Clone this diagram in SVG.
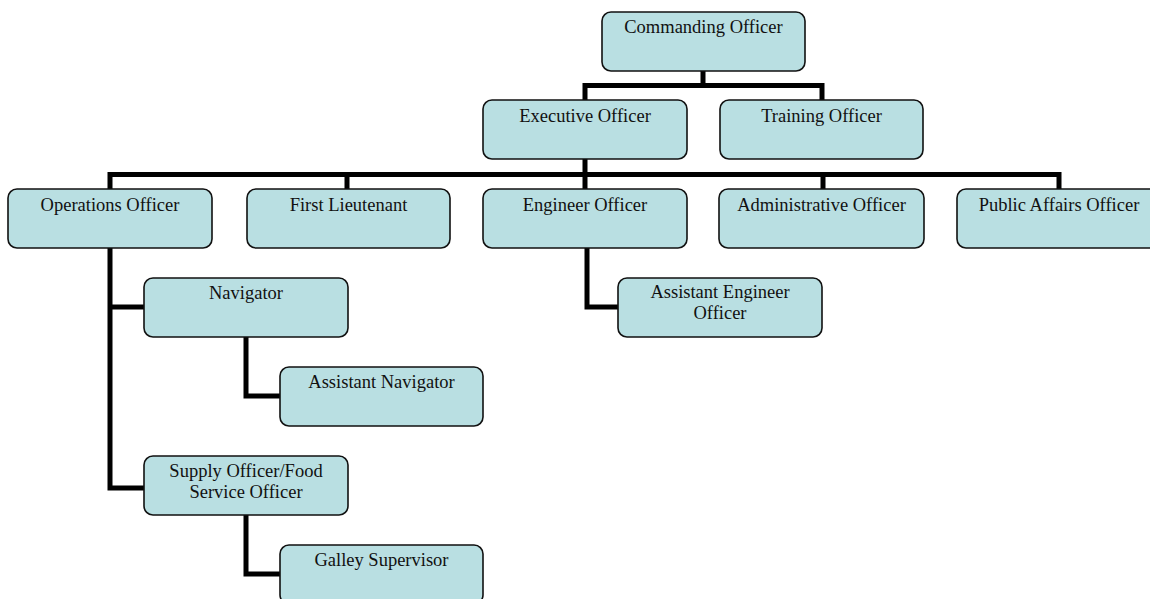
<svg xmlns="http://www.w3.org/2000/svg" width="1150" height="599" viewBox="0 0 1150 599">
<style>
.box{fill:#B9DFE2;stroke:#111;stroke-width:1.6}
.lbl{font-family:"Liberation Serif","Times New Roman",serif;font-size:18.5px;fill:#111;text-anchor:middle}
.conn{fill:none;stroke:#000;stroke-width:5;stroke-linejoin:miter;stroke-linecap:square}
</style>
<rect width="1150" height="599" fill="#fff"/>
<g id="connectors">
<path class="conn" d="M703,72 V85.5 M585,85.5 H822 V99 M585,85.5 V188"/>
<path class="conn" d="M110,174.5 H1059 V188 M110,174.5 V188 M347,174.5 V188 M823,174.5 V188"/>
<path class="conn" d="M110,249 V488 H143 M110,307 H143"/>
<path class="conn" d="M246,338 V396 H279"/>
<path class="conn" d="M246,516 V574 H279"/>
<path class="conn" d="M587,249 V307 H617"/>
</g>
<g id="commanding"><rect class="box" x="602" y="12" width="203" height="59" rx="9"/><text class="lbl" x="703.5" y="33">Commanding Officer</text></g>
<g id="executive"><rect class="box" x="483" y="100" width="204" height="59" rx="9"/><text class="lbl" x="585" y="122">Executive Officer</text></g>
<g id="training"><rect class="box" x="720" y="100" width="203" height="59" rx="9"/><text class="lbl" x="821.5" y="122">Training Officer</text></g>
<g id="operations"><rect class="box" x="8" y="189" width="204" height="59" rx="9"/><text class="lbl" x="110" y="211">Operations Officer</text></g>
<g id="firstlt"><rect class="box" x="247" y="189" width="203" height="59" rx="9"/><text class="lbl" x="348.5" y="211">First Lieutenant</text></g>
<g id="engineer"><rect class="box" x="483" y="189" width="204" height="59" rx="9"/><text class="lbl" x="585" y="211">Engineer Officer</text></g>
<g id="admin"><rect class="box" x="719" y="189" width="205" height="59" rx="9"/><text class="lbl" x="821.5" y="211">Administrative Officer</text></g>
<g id="publicaffairs"><rect class="box" x="957" y="189" width="204" height="59" rx="9"/><text class="lbl" x="1059" y="211">Public Affairs Officer</text></g>
<g id="navigator"><rect class="box" x="144" y="278" width="204" height="59" rx="9"/><text class="lbl" x="246" y="299">Navigator</text></g>
<g id="asstnav"><rect class="box" x="280" y="367" width="203" height="59" rx="9"/><text class="lbl" x="381.5" y="388">Assistant Navigator</text></g>
<g id="supply"><rect class="box" x="144" y="456" width="204" height="59" rx="9"/><text class="lbl" x="246" y="477">Supply Officer/Food</text><text class="lbl" x="246" y="498">Service Officer</text></g>
<g id="galley"><rect class="box" x="280" y="545" width="203" height="59" rx="9"/><text class="lbl" x="381.5" y="566">Galley Supervisor</text></g>
<g id="asstengineer"><rect class="box" x="618" y="278" width="204" height="59" rx="9"/><text class="lbl" x="720" y="298">Assistant Engineer</text><text class="lbl" x="720" y="319">Officer</text></g>
</svg>
